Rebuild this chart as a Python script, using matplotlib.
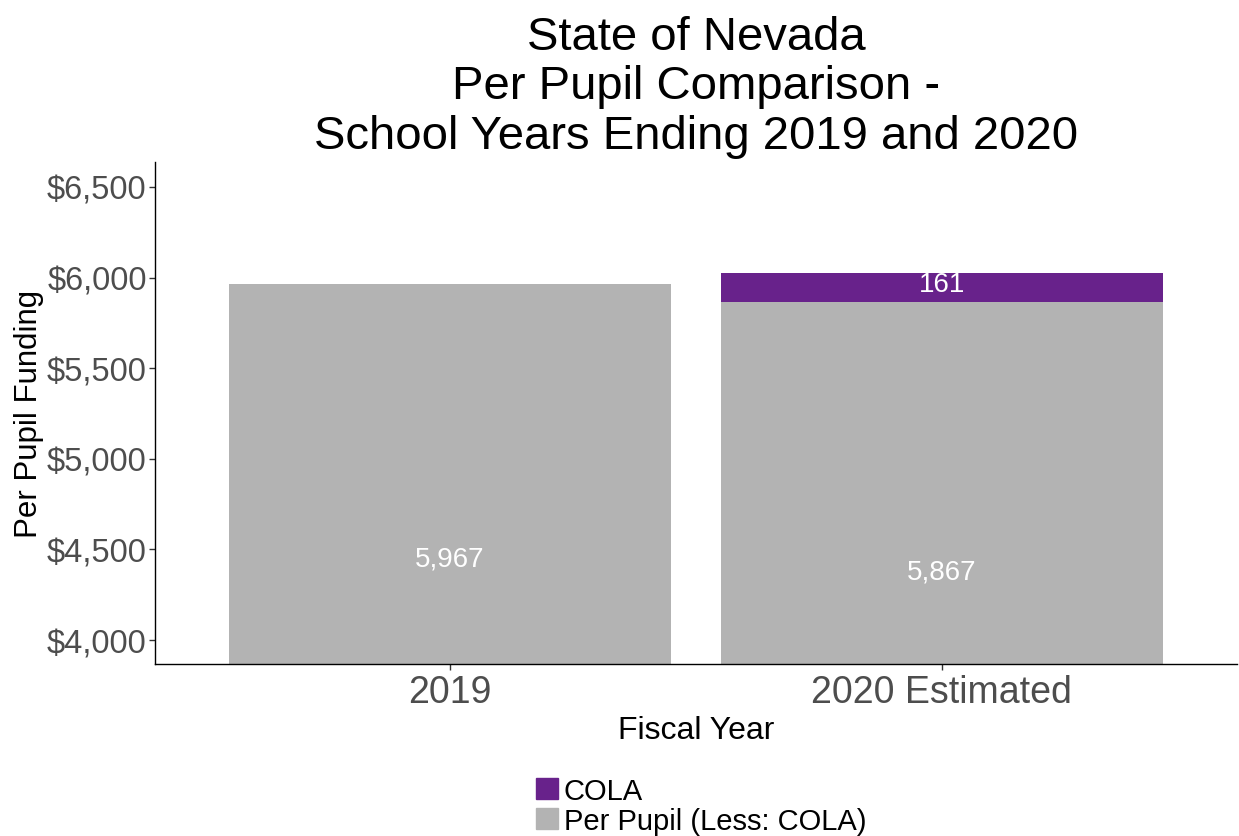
import matplotlib.pyplot as plt
from matplotlib.ticker import FuncFormatter
from matplotlib.patches import Patch

plt.rcParams['font.family'] = ['Liberation Sans', 'DejaVu Sans']

# data
years = ["2019", "2020 Estimated"]
base_values = [5967, 5867]      # Per Pupil (Less: COLA)
cola_values = [0, 161]          # COLA
y_ticks = [4000, 4500, 5000, 5500, 6000, 6500]

grey = '#B3B3B3'
purple = '#68228B'

fig = plt.figure(figsize=(12.39, 8.37), dpi=100)
ax = fig.add_axes([0.1251, 0.2055, 0.8733, 0.5998])

x = list(range(1, len(years) + 1))
ax.bar(x, base_values, width=0.9, color=grey)
ax.bar(x, cola_values, bottom=base_values, width=0.9, color=purple)

# value labels
for xi, b, c in zip(x, base_values, cola_values):
    ax.text(xi, b * 0.746, f"{b:,}", ha='center', va='center', color='white', fontsize=20)
    if c > 0:
        ax.text(xi, b + c * 0.62, f"{c:,}", ha='center', va='center', color='white', fontsize=20)

ax.set_xlim(0.4, 2.6)
ax.set_ylim(3868, 6638)
ax.set_xticks(x)
ax.set_xticklabels(years, fontsize=27, color='#4D4D4D')
ax.set_yticks(y_ticks)
ax.yaxis.set_major_formatter(FuncFormatter(lambda v, p: f"${v:,.0f}"))
ax.tick_params(axis='y', labelsize=23.5, labelcolor='#4D4D4D', color='#333333', length=4, width=1, pad=2)
ax.tick_params(axis='x', color='#333333', length=4, width=1, pad=3)

for s in ['top', 'right']:
    ax.spines[s].set_visible(False)
for s in ['left', 'bottom']:
    ax.spines[s].set_color('black')
    ax.spines[s].set_linewidth(1)

ax.set_xlabel("Fiscal Year", fontsize=23, labelpad=4)
ax.set_ylabel("Per Pupil Funding", fontsize=22.5)
ax.yaxis.set_label_coords(-0.1025, 0.5)
ax.set_title("State of Nevada\nPer Pupil Comparison -\nSchool Years Ending 2019 and 2020",
             fontsize=34, linespacing=1.17, pad=10)

handles = [Patch(color=purple, label='COLA'),
           Patch(color=grey, label='Per Pupil (Less: COLA)')]
fig.legend(handles=handles, loc='lower center', bbox_to_anchor=(0.566, -0.03),
           frameon=False, fontsize=21, handlelength=0.75, handleheight=0.75,
           handletextpad=0.2, labelspacing=0.08)

fig.savefig("out.png", dpi=100)
